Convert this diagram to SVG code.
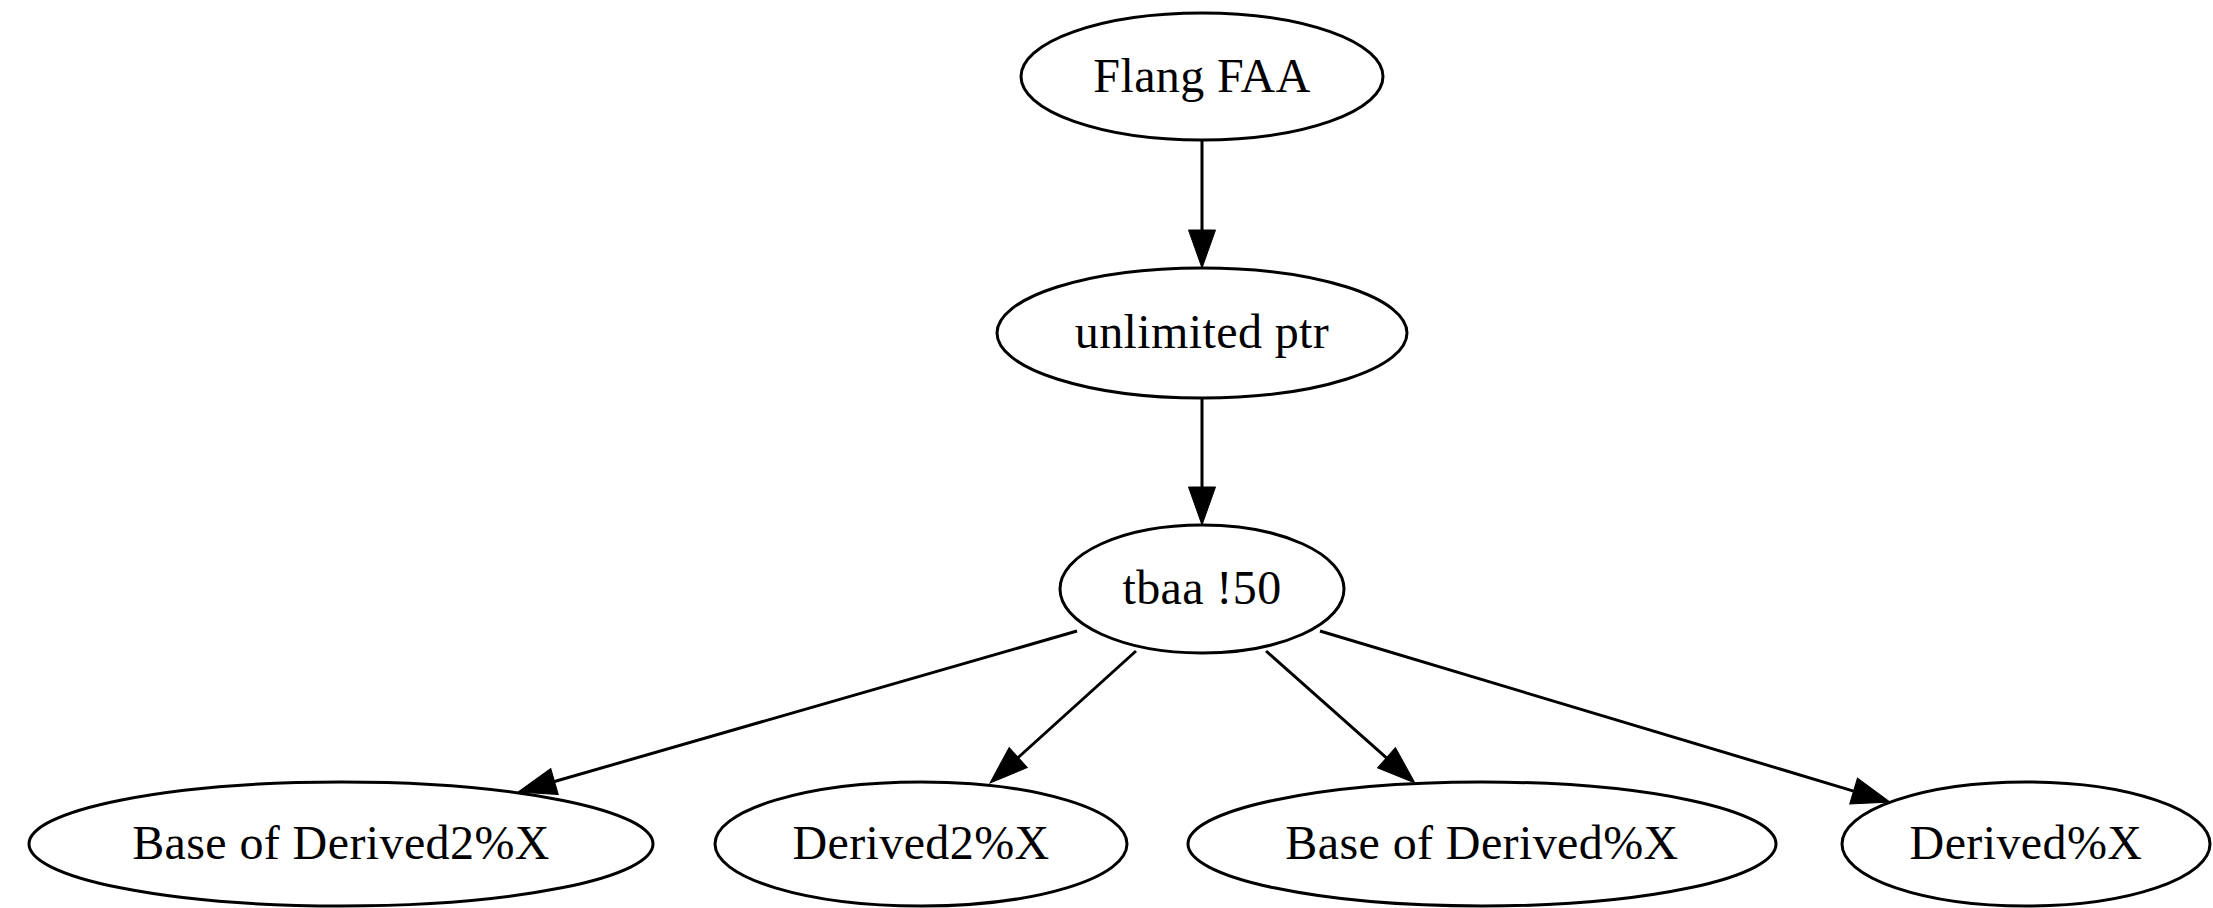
<svg xmlns="http://www.w3.org/2000/svg" width="2213" height="908" viewBox="0 0 2213 908">
<style>
  .n ellipse { fill: none; stroke: #000; stroke-width: 3; }
  .n text { font-family: "Liberation Serif", "Times New Roman", serif; font-size: 48px; letter-spacing: 0.4px; text-anchor: middle; fill: #000; }
  .e line { stroke: #000; stroke-width: 3; fill: none; marker-end: url(#arr); }
</style>
<defs>
  <marker id="arr" markerUnits="userSpaceOnUse" markerWidth="40" markerHeight="30" refX="0" refY="13.5" orient="auto" overflow="visible">
    <path d="M0,0 L38,13.5 L0,27 Z" fill="#000" stroke="#000" stroke-width="1"/>
  </marker>
</defs>
<rect x="0" y="0" width="2213" height="908" fill="#fff"/>
<g id="edges" class="e">
  <line x1="1202" y1="140" x2="1202" y2="230"/>
  <line x1="1202" y1="398" x2="1202" y2="487"/>
  <line x1="1077" y1="631" x2="554.5" y2="781.5"/>
  <line x1="1136" y1="651" x2="1018.2" y2="757.5"/>
  <line x1="1266" y1="651" x2="1386.5" y2="757.8"/>
  <line x1="1320" y1="631" x2="1853.6" y2="791.1"/>
</g>
<g id="flang_faa" class="n">
  <ellipse cx="1202" cy="76.5" rx="181" ry="63.5"/>
  <text x="1202" y="92">Flang FAA</text>
</g>
<g id="unlimited_ptr" class="n">
  <ellipse cx="1202" cy="333" rx="205" ry="65"/>
  <text x="1202" y="348">unlimited ptr</text>
</g>
<g id="tbaa50" class="n">
  <ellipse cx="1202" cy="589" rx="142" ry="64"/>
  <text x="1202" y="604">tbaa !50</text>
</g>
<g id="base_derived2" class="n">
  <ellipse cx="341" cy="844" rx="312" ry="62"/>
  <text x="341" y="859">Base of Derived2%X</text>
</g>
<g id="derived2" class="n">
  <ellipse cx="921" cy="844" rx="206" ry="62"/>
  <text x="921" y="859">Derived2%X</text>
</g>
<g id="base_derived" class="n">
  <ellipse cx="1482" cy="844" rx="294" ry="62"/>
  <text x="1482" y="859">Base of Derived%X</text>
</g>
<g id="derived" class="n">
  <ellipse cx="2026" cy="844" rx="184" ry="62"/>
  <text x="2026" y="859">Derived%X</text>
</g>
</svg>
